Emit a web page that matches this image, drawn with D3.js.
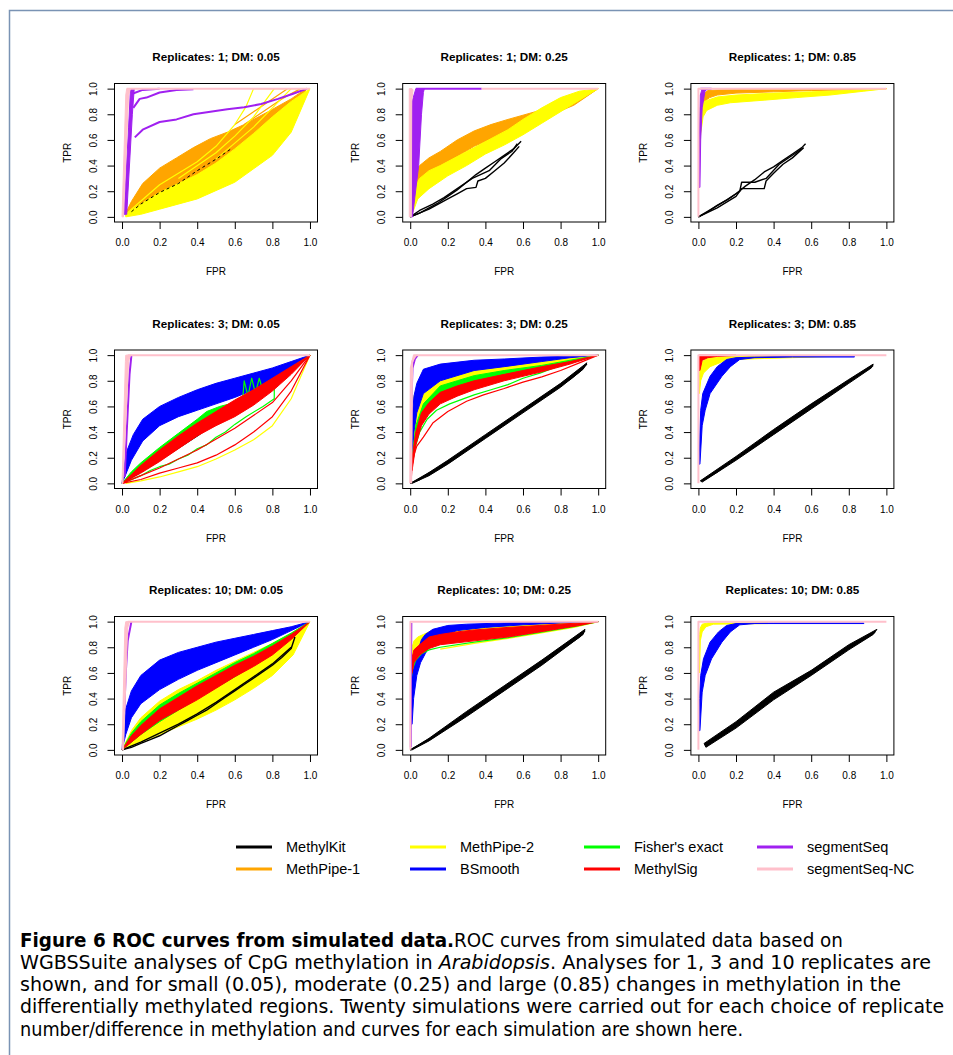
<!DOCTYPE html>
<html><head><meta charset="utf-8">
<script src="https://cdn.jsdelivr.net/npm/d3@7"></script>
<style>body{margin:0;background:#fff}</style>
</head><body><svg id="c" width="953" height="1055"></svg>
<script>
// ---------- data ----------
const methods = ["MethylKit","MethPipe-1","MethPipe-2","BSmooth","Fisher's exact","MethylSig","segmentSeq","segmentSeq-NC"];
const methodColors = ["#000000","#FFA500","#FFFF00","#0000FF","#00FF00","#FF0000","#A020F0","#FFC0CB"];
const drawOrder = ["MethPipe-1","MethPipe-2","MethylKit","BSmooth","Fisher's exact","MethylSig","segmentSeq","segmentSeq-NC"];
const replicateCounts = [1,3,10];
const dmLevels = ["0.05","0.25","0.85"];
const axisTicks = [0,0.2,0.4,0.6,0.8,1.0];

// bands = envelope (upper hi, lower lo) of the 20 simulation curves; lines = individual curves
const r1d05Bands = [
 {m:"MethPipe-1", hi:[[0.02,0.03],[0.05,0.12],[0.11,0.26],[0.2,0.38],[0.29,0.46],[0.38,0.54],[0.47,0.61],[0.56,0.66],[0.65,0.72],[0.79,0.83],[0.9,0.92],[0.98,1]], lo:[[0.02,0.01],[0.1,0.07],[0.2,0.13],[0.38,0.24],[0.56,0.36],[0.74,0.51],[0.91,0.74],[0.98,1]]},
 {m:"MethPipe-2", hi:[[0.02,0.02],[0.1,0.1],[0.2,0.19],[0.3,0.26],[0.4,0.33],[0.5,0.42],[0.6,0.53],[0.7,0.65],[0.8,0.78],[0.9,0.9],[1,1]], lo:[[0.02,0],[0.1,0.02],[0.2,0.06],[0.4,0.14],[0.6,0.27],[0.8,0.48],[0.9,0.66],[1,1]]},
 {m:"segmentSeq", hi:[[0.01,0.02],[0.035,0.7],[0.045,1]], lo:[[0.025,0.02],[0.055,0.8],[0.065,1]]},
 {m:"segmentSeq-NC", hi:[[0,0],[0.02,0.95],[0.025,1]], lo:[[0.008,0],[0.035,0.95],[0.045,1]]}
];
const r1d05Lines = [
 {m:"MethylKit", pts:[[0.05,0.04],[0.1,0.1],[0.2,0.19],[0.3,0.26],[0.4,0.36],[0.5,0.45],[0.58,0.53]]},
 {m:"MethPipe-1", pts:[[0.6,0.72],[0.7,0.82],[0.8,0.92],[0.88,1]]},
 {m:"MethPipe-1", pts:[[0.65,0.72],[0.75,0.82],[0.85,0.92],[0.95,1]]},
 {m:"MethPipe-2", pts:[[0.02,0.02],[0.2,0.25],[0.4,0.43],[0.5,0.55],[0.6,0.72],[0.66,0.86],[0.7,1],[1,1]]},
 {m:"MethPipe-2", pts:[[0.3,0.3],[0.5,0.5],[0.6,0.63],[0.7,0.78],[0.81,1]]},
 {m:"MethPipe-2", pts:[[0.5,0.45],[0.7,0.7],[0.8,0.85],[0.9,1]]},
 {m:"segmentSeq", pts:[[0.068,0.62],[0.11,0.68],[0.2,0.74],[0.29,0.76],[0.38,0.8],[0.47,0.82],[0.56,0.84],[0.65,0.855],[0.74,0.88],[0.83,0.92],[0.91,0.96],[0.985,1]]},
 {m:"segmentSeq", pts:[[0.06,0.85],[0.094,0.92],[0.13,0.93],[0.2,0.97],[0.29,0.99],[0.38,0.995]]},
 {m:"segmentSeq", pts:[[0.055,0.96],[0.11,0.99],[0.2,1]]},
 {m:"segmentSeq-NC", pts:[[0.025,1],[1,1]]}
];

const r1d25Bands = [
 {m:"MethPipe-1", hi:[[0.005,0.05],[0.02,0.3],[0.05,0.4],[0.1,0.46],[0.16,0.51],[0.25,0.6],[0.34,0.67],[0.43,0.72],[0.52,0.76],[0.69,0.83],[0.87,0.92],[1,1]], lo:[[0.01,0.05],[0.035,0.21],[0.1,0.32],[0.16,0.37],[0.25,0.47],[0.34,0.55],[0.52,0.66],[0.69,0.76],[0.87,0.87],[1,1]]},
 {m:"MethPipe-2", hi:[[0.005,0.05],[0.02,0.22],[0.05,0.3],[0.1,0.36],[0.16,0.4],[0.25,0.47],[0.34,0.54],[0.43,0.61],[0.52,0.68],[0.6,0.76],[0.7,0.85],[0.8,0.93],[0.9,0.98],[1,1]], lo:[[0.01,0.02],[0.04,0.14],[0.1,0.22],[0.2,0.32],[0.3,0.4],[0.4,0.49],[0.5,0.56],[0.6,0.64],[0.7,0.73],[0.8,0.82],[0.9,0.91],[1,1]]},
 {m:"segmentSeq", hi:[[0.003,0],[0.006,0.5],[0.01,0.9],[0.03,1]], lo:[[0.012,0],[0.045,0.4],[0.06,0.8],[0.07,0.97],[0.075,1]]},
 {m:"segmentSeq-NC", hi:[[-0.005,0],[-0.005,1],[0.01,1]], lo:[[0.006,0],[0.008,0.9],[0.015,0.99]]}
];
const r1d25Lines = [
 {m:"MethylKit", pts:[[0,0],[0.05,0.03],[0.1,0.07],[0.15,0.11],[0.2,0.16],[0.25,0.21],[0.3,0.27],[0.35,0.33],[0.4,0.38],[0.45,0.43],[0.5,0.48],[0.55,0.53],[0.59,0.59]]},
 {m:"MethylKit", pts:[[0,0],[0.1,0.06],[0.2,0.14],[0.25,0.18],[0.3,0.22],[0.35,0.23],[0.36,0.28],[0.4,0.3],[0.45,0.36],[0.5,0.42],[0.55,0.5],[0.58,0.55]]},
 {m:"MethylKit", pts:[[0,0],[0.05,0.05],[0.12,0.1],[0.18,0.15],[0.26,0.23],[0.33,0.3],[0.42,0.36],[0.48,0.45],[0.54,0.51],[0.57,0.57]]},
 {m:"segmentSeq", pts:[[0.03,1],[0.38,1]]},
 {m:"segmentSeq-NC", pts:[[0.38,1],[1,1]]}
];

const r1d85Bands = [
 {m:"MethPipe-1", hi:[[0.01,0.85],[0.02,0.95],[0.05,0.985],[0.1,0.99],[0.3,0.995],[0.6,0.998],[1,1]], lo:[[0.01,0.8],[0.03,0.9],[0.06,0.93],[0.1,0.95],[0.2,0.965],[0.4,0.975],[0.6,0.985],[0.8,0.99],[1,1]]},
 {m:"MethPipe-2", hi:[[0.01,0.8],[0.03,0.9],[0.1,0.935],[0.2,0.95],[0.4,0.965],[0.6,0.975],[0.8,0.985],[1,1]], lo:[[0.005,0.5],[0.012,0.65],[0.025,0.78],[0.044,0.83],[0.1,0.87],[0.17,0.89],[0.35,0.91],[0.52,0.93],[0.7,0.95],[0.88,0.98],[1,1]]},
 {m:"segmentSeq", hi:[[0.003,0.23],[0.005,0.6],[0.01,0.95],[0.02,1]], lo:[[0.008,0.23],[0.012,0.6],[0.02,0.85],[0.035,0.98],[0.05,1]]}
];
const r1d85Lines = [
 {m:"MethylKit", pts:[[0,0],[0.05,0.04],[0.1,0.09],[0.15,0.13],[0.2,0.18],[0.25,0.24],[0.3,0.29],[0.35,0.35],[0.4,0.39],[0.45,0.44],[0.5,0.49],[0.55,0.54],[0.57,0.57]]},
 {m:"MethylKit", pts:[[0,0],[0.1,0.07],[0.2,0.16],[0.23,0.22],[0.35,0.22],[0.36,0.28],[0.4,0.34],[0.45,0.41],[0.5,0.46],[0.56,0.54]]},
 {m:"MethylKit", pts:[[0,0],[0.08,0.07],[0.16,0.14],[0.22,0.2],[0.23,0.27],[0.3,0.27],[0.36,0.3],[0.43,0.41],[0.52,0.5],[0.55,0.53]]},
 {m:"segmentSeq", pts:[[0.01,1],[0.07,1]]},
 {m:"segmentSeq-NC", pts:[[0,0],[0,1],[1,1]]}
];

const r3d05Bands = [
 {m:"BSmooth", hi:[[0,0],[0.01,0.12],[0.025,0.25],[0.06,0.38],[0.11,0.5],[0.2,0.6],[0.3,0.67],[0.4,0.73],[0.5,0.78],[0.6,0.82],[0.7,0.86],[0.8,0.9],[0.9,0.95],[1,1]], lo:[[0,0],[0.02,0.07],[0.05,0.18],[0.11,0.33],[0.2,0.45],[0.3,0.52],[0.4,0.57],[0.5,0.62],[0.6,0.67],[0.7,0.73],[0.8,0.8],[0.9,0.89],[1,1]]},
 {m:"Fisher's exact", hi:[[0,0],[0.05,0.09],[0.1,0.16],[0.2,0.28],[0.3,0.39],[0.4,0.5],[0.45,0.56],[0.52,0.6],[0.6,0.63],[0.65,0.66],[0.8,0.8],[0.9,0.9],[1,1]], lo:[[0,0],[0.2,0.2],[0.4,0.4],[0.6,0.6],[0.8,0.8],[1,1]]},
 {m:"MethylSig", hi:[[0,0],[0.05,0.07],[0.1,0.14],[0.2,0.26],[0.3,0.37],[0.4,0.47],[0.5,0.56],[0.6,0.65],[0.7,0.73],[0.8,0.82],[0.9,0.91],[1,1]], lo:[[0,0],[0.1,0.08],[0.2,0.17],[0.3,0.27],[0.4,0.37],[0.5,0.45],[0.6,0.52],[0.7,0.61],[0.8,0.72],[0.9,0.85],[1,1]]},
 {m:"segmentSeq-NC", hi:[[0,0],[0.018,0.95],[0.02,1]], lo:[[0.005,0],[0.035,0.95],[0.045,1]]}
];
const r3d05Lines = [
 {m:"MethylKit", pts:[[0,0],[0.2,0.18],[0.4,0.37],[0.6,0.58],[0.8,0.79],[1,1]]},
 {m:"MethPipe-1", pts:[[0,0],[0.1,0.14],[0.2,0.25],[0.4,0.45],[0.6,0.64],[0.8,0.82],[1,1]]},
 {m:"MethPipe-2", pts:[[0.02,0],[0.1,0.02],[0.2,0.05],[0.3,0.09],[0.4,0.13],[0.5,0.19],[0.6,0.26],[0.7,0.34],[0.8,0.45],[0.9,0.66],[1,1]]},
 {m:"MethPipe-2", pts:[[0,0],[0.3,0.31],[0.5,0.53],[0.7,0.74],[0.85,0.88],[1,1]]},
 {m:"Fisher's exact", pts:[[0.64,0.62],[0.65,0.8],[0.67,0.68],[0.69,0.82],[0.71,0.7],[0.73,0.82],[0.75,0.72],[0.8,0.8]]},
 {m:"Fisher's exact", pts:[[0,0],[0.1,0.06],[0.15,0.1],[0.2,0.13],[0.25,0.15],[0.3,0.19],[0.35,0.22],[0.4,0.27],[0.45,0.3],[0.5,0.36],[0.55,0.4],[0.6,0.46],[0.66,0.52],[0.75,0.6],[0.81,0.66],[0.81,0.75],[0.9,0.87],[1,1]]},
 {m:"MethylSig", pts:[[0,0],[0.1,0.03],[0.2,0.08],[0.3,0.12],[0.4,0.16],[0.5,0.22],[0.6,0.3],[0.7,0.4],[0.8,0.52],[0.9,0.72],[1,1]]},
 {m:"MethylSig", pts:[[0,0],[0.1,0.06],[0.2,0.12],[0.4,0.26],[0.6,0.43],[0.8,0.63],[0.9,0.8],[1,1]]},
 {m:"segmentSeq", pts:[[0.014,0.05],[0.025,0.4],[0.04,0.85],[0.05,1]]},
 {m:"segmentSeq-NC", pts:[[0.03,1],[1,1]]}
];

const r3d25Bands = [
 {m:"MethylKit", hi:[[0,0],[0.1,0.085],[0.2,0.18],[0.4,0.38],[0.6,0.58],[0.8,0.78],[0.94,0.94]], lo:[[0.01,0],[0.1,0.06],[0.2,0.15],[0.4,0.35],[0.6,0.55],[0.8,0.75],[0.92,0.89]]},
 {m:"MethPipe-2", hi:[[0.004,0.2],[0.01,0.5],[0.02,0.68],[0.035,0.75],[0.07,0.83],[0.16,0.86],[0.34,0.9],[0.5,0.92],[0.7,0.95],[0.85,0.975],[1,1]], lo:[[0.01,0.2],[0.03,0.45],[0.07,0.62],[0.16,0.72],[0.25,0.78],[0.34,0.82],[0.5,0.87],[0.7,0.92],[0.85,0.96],[1,1]]},
 {m:"BSmooth", hi:[[0.004,0.2],[0.01,0.5],[0.02,0.68],[0.035,0.78],[0.07,0.89],[0.16,0.93],[0.34,0.96],[0.5,0.97],[0.7,0.985],[1,1]], lo:[[0.01,0.2],[0.02,0.4],[0.035,0.55],[0.07,0.7],[0.16,0.8],[0.34,0.88],[0.5,0.91],[0.7,0.95],[0.85,0.98],[1,1]]},
 {m:"Fisher's exact", hi:[[0.01,0.2],[0.03,0.45],[0.07,0.62],[0.16,0.76],[0.25,0.8],[0.34,0.84],[0.5,0.88],[0.7,0.92],[0.85,0.96],[1,1]], lo:[[0.01,0.15],[0.03,0.35],[0.07,0.52],[0.16,0.65],[0.25,0.72],[0.34,0.77],[0.5,0.83],[0.7,0.89],[0.85,0.94],[1,1]]},
 {m:"MethylSig", hi:[[0.01,0.2],[0.03,0.4],[0.06,0.55],[0.1,0.63],[0.16,0.71],[0.25,0.76],[0.34,0.8],[0.5,0.85],[0.7,0.91],[0.85,0.95],[1,1]], lo:[[0.01,0.1],[0.03,0.3],[0.06,0.45],[0.1,0.54],[0.16,0.62],[0.25,0.68],[0.34,0.73],[0.5,0.8],[0.7,0.87],[0.85,0.93],[1,1]]}
];
const r3d25Lines = [
 {m:"MethylKit", pts:[[0,0],[0.05,0.03],[0.1,0.08],[0.15,0.12],[0.2,0.17],[0.25,0.21],[0.3,0.27],[0.35,0.31],[0.4,0.37],[0.45,0.41],[0.5,0.47],[0.55,0.51],[0.6,0.57],[0.65,0.61],[0.7,0.67],[0.75,0.71],[0.8,0.77],[0.85,0.81],[0.9,0.87],[0.94,0.93]]},
 {m:"Fisher's exact", pts:[[0.02,0.25],[0.05,0.4],[0.09,0.5],[0.14,0.57],[0.21,0.62],[0.34,0.69],[0.43,0.73],[0.52,0.77],[0.6,0.82],[0.69,0.86],[0.78,0.91],[0.9,0.96],[1,1]]},
 {m:"MethylSig", pts:[[0.005,0.02],[0.01,0.14],[0.02,0.22],[0.035,0.29],[0.07,0.36],[0.12,0.47],[0.2,0.56],[0.3,0.64],[0.39,0.69],[0.5,0.74],[0.6,0.79],[0.7,0.83],[0.8,0.88],[0.9,0.94],[1,1]]},
 {m:"segmentSeq", pts:[[0.005,0.35],[0.008,0.7],[0.012,0.9],[0.025,0.97],[0.04,1]]},
 {m:"segmentSeq-NC", pts:[[0,0],[0.003,0.9],[0.02,1],[1,1]]},
 {m:"segmentSeq-NC", pts:[[0.005,0],[0.01,0.95],[0.03,1]]}
];

const r3d85Bands = [
 {m:"MethylKit", hi:[[0.01,0.02],[0.2,0.21],[0.4,0.42],[0.6,0.62],[0.8,0.81],[0.93,0.93]], lo:[[0.02,0.01],[0.2,0.18],[0.4,0.38],[0.6,0.58],[0.8,0.78],[0.92,0.9]]},
 {m:"MethPipe-2", hi:[[0.004,0.78],[0.008,0.9],[0.02,0.95],[0.05,0.975],[0.1,0.985],[0.3,0.99],[0.72,0.995]], lo:[[0.005,0.7],[0.012,0.8],[0.027,0.86],[0.062,0.91],[0.13,0.95],[0.2,0.966],[0.35,0.974],[0.5,0.98],[0.72,0.99]]},
 {m:"BSmooth", hi:[[0.004,0.15],[0.008,0.4],[0.012,0.57],[0.023,0.7],[0.062,0.835],[0.1,0.91],[0.15,0.966],[0.2,0.98],[0.3,0.985],[0.5,0.99],[0.83,0.99]], lo:[[0.008,0.15],[0.02,0.45],[0.036,0.57],[0.062,0.7],[0.125,0.835],[0.17,0.91],[0.22,0.966],[0.3,0.98],[0.5,0.985],[0.83,0.985]]},
 {m:"MethylSig", hi:[[0.003,0.88],[0.004,1],[0.2,1]], lo:[[0.008,0.88],[0.02,0.96],[0.05,0.98],[0.1,0.99],[0.2,0.997]]}
];
const r3d85Lines = [
 {m:"MethylKit", pts:[[0.02,0.02],[0.1,0.09],[0.2,0.2],[0.3,0.29],[0.4,0.4],[0.5,0.49],[0.6,0.6],[0.7,0.69],[0.8,0.8],[0.9,0.89],[0.93,0.92]]},
 {m:"segmentSeq-NC", pts:[[0,0],[0,1],[1,1]]}
];

const r10d05Bands = [
 {m:"MethPipe-2", hi:[[0,0],[0.05,0.15],[0.1,0.25],[0.2,0.38],[0.3,0.47],[0.4,0.54],[0.5,0.62],[0.6,0.69],[0.7,0.76],[0.8,0.83],[0.9,0.91],[1,1]], lo:[[0,0],[0.1,0.06],[0.2,0.12],[0.3,0.18],[0.4,0.24],[0.5,0.31],[0.6,0.39],[0.7,0.48],[0.8,0.58],[0.91,0.74],[1,1]]},
 {m:"BSmooth", hi:[[0,0],[0.01,0.2],[0.02,0.32],[0.05,0.46],[0.1,0.58],[0.2,0.7],[0.3,0.76],[0.4,0.8],[0.5,0.84],[0.6,0.87],[0.7,0.9],[0.8,0.93],[0.9,0.96],[1,1]], lo:[[0,0],[0.02,0.12],[0.05,0.25],[0.1,0.36],[0.2,0.47],[0.3,0.55],[0.4,0.62],[0.5,0.68],[0.6,0.74],[0.7,0.8],[0.8,0.86],[0.9,0.93],[1,1]]},
 {m:"Fisher's exact", hi:[[0,0],[0.05,0.13],[0.1,0.22],[0.2,0.35],[0.3,0.44],[0.4,0.52],[0.5,0.6],[0.6,0.68],[0.7,0.75],[0.8,0.83],[0.9,0.91],[1,1]], lo:[[0,0],[0.1,0.12],[0.2,0.22],[0.4,0.4],[0.6,0.57],[0.8,0.75],[1,1]]},
 {m:"MethylSig", hi:[[0,0],[0.05,0.11],[0.1,0.19],[0.2,0.32],[0.3,0.41],[0.4,0.5],[0.5,0.58],[0.6,0.66],[0.7,0.73],[0.8,0.81],[0.9,0.9],[1,1]], lo:[[0,0],[0.05,0.06],[0.1,0.12],[0.2,0.23],[0.3,0.31],[0.4,0.39],[0.5,0.48],[0.6,0.57],[0.7,0.65],[0.8,0.74],[0.9,0.86],[1,1]]},
 {m:"segmentSeq-NC", hi:[[0,0],[0.015,0.95],[0.02,1]], lo:[[0.008,0],[0.03,0.95],[0.04,1]]}
];
const r10d05Lines = [
 {m:"MethylKit", pts:[[0,0],[0.05,0.02],[0.1,0.05],[0.15,0.08],[0.2,0.11],[0.25,0.15],[0.3,0.19],[0.35,0.23],[0.4,0.27],[0.45,0.31],[0.5,0.36],[0.55,0.41],[0.6,0.46],[0.65,0.51],[0.7,0.56],[0.75,0.61],[0.8,0.66],[0.85,0.72],[0.9,0.79],[0.92,0.88]]},
 {m:"MethylKit", pts:[[0,0],[0.1,0.06],[0.2,0.13],[0.3,0.2],[0.4,0.28],[0.5,0.37],[0.6,0.47],[0.7,0.57],[0.8,0.67],[0.9,0.8]]},
 {m:"segmentSeq", pts:[[0.012,0.3],[0.02,0.6],[0.03,0.85],[0.05,1]]},
 {m:"segmentSeq-NC", pts:[[0.03,1],[1,1]]}
];

const r10d25Bands = [
 {m:"MethylKit", hi:[[0,0],[0.1,0.09],[0.3,0.3],[0.5,0.5],[0.7,0.7],[0.93,0.94]], lo:[[0.01,0],[0.1,0.07],[0.3,0.26],[0.5,0.46],[0.7,0.66],[0.92,0.9]]},
 {m:"MethPipe-2", hi:[[0.005,0.7],[0.01,0.8],[0.02,0.85],[0.04,0.88],[0.07,0.9],[0.1,0.92],[0.2,0.95],[0.4,0.97],[0.6,0.98],[0.8,0.99],[1,1]], lo:[[0.01,0.65],[0.02,0.75],[0.05,0.8],[0.1,0.84],[0.2,0.87],[0.4,0.91],[0.6,0.94],[0.8,0.97],[1,1]]},
 {m:"BSmooth", hi:[[0.003,0.2],[0.006,0.45],[0.01,0.58],[0.02,0.68],[0.04,0.77],[0.06,0.86],[0.08,0.9],[0.12,0.94],[0.2,0.97],[0.3,0.98],[0.5,0.99],[0.7,0.995],[1,1]], lo:[[0.01,0.2],[0.018,0.4],[0.035,0.58],[0.055,0.68],[0.08,0.75],[0.1,0.8],[0.15,0.88],[0.25,0.93],[0.4,0.955],[0.6,0.975],[0.8,0.99],[1,1]]},
 {m:"MethylSig", hi:[[0.005,0.6],[0.01,0.72],[0.02,0.78],[0.05,0.82],[0.1,0.88],[0.16,0.9],[0.25,0.92],[0.34,0.935],[0.52,0.955],[0.69,0.97],[0.9,0.99],[1,1]], lo:[[0.005,0.58],[0.01,0.6],[0.02,0.68],[0.05,0.74],[0.1,0.79],[0.16,0.82],[0.34,0.85],[0.52,0.88],[0.69,0.92],[0.9,0.97],[1,1]]}
];
const r10d25Lines = [
 {m:"MethPipe-2", pts:[[0.16,0.785],[0.34,0.83],[0.52,0.87],[0.69,0.91],[0.87,0.955],[1,1]]},
 {m:"MethylKit", pts:[[0,0],[0.05,0.04],[0.1,0.08],[0.15,0.13],[0.2,0.18],[0.25,0.23],[0.3,0.28],[0.35,0.33],[0.4,0.38],[0.45,0.44],[0.5,0.48],[0.55,0.53],[0.6,0.58],[0.65,0.64],[0.7,0.68],[0.75,0.73],[0.8,0.78],[0.85,0.83],[0.9,0.88],[0.93,0.93]]},
 {m:"Fisher's exact", pts:[[0.005,0.55],[0.01,0.62],[0.03,0.7],[0.06,0.75],[0.1,0.78],[0.16,0.8],[0.34,0.84],[0.52,0.875],[0.69,0.915],[0.87,0.96],[1,1]]},
 {m:"segmentSeq", pts:[[0.003,0.02],[0.004,0.6],[0.006,0.99]]},
 {m:"segmentSeq-NC", pts:[[0.001,0],[0.001,1],[1,1]]}
];

const r10d85Bands = [
 {m:"MethylKit", hi:[[0.03,0.05],[0.2,0.22],[0.4,0.45],[0.6,0.62],[0.8,0.82],[0.95,0.94]], lo:[[0.04,0.02],[0.2,0.17],[0.4,0.39],[0.6,0.58],[0.8,0.78],[0.93,0.9]]},
 {m:"MethPipe-2", hi:[[0.004,0.7],[0.006,0.9],[0.01,0.95],[0.02,0.98],[0.05,0.99],[0.37,0.99]], lo:[[0.006,0.6],[0.01,0.85],[0.02,0.92],[0.04,0.96],[0.08,0.98],[0.37,0.985]]},
 {m:"BSmooth", hi:[[0.003,0.15],[0.006,0.4],[0.012,0.58],[0.027,0.71],[0.062,0.84],[0.107,0.92],[0.15,0.97],[0.2,0.985],[0.4,0.99],[0.88,0.99]], lo:[[0.008,0.15],[0.02,0.45],[0.036,0.58],[0.07,0.71],[0.125,0.84],[0.17,0.92],[0.22,0.975],[0.3,0.985],[0.88,0.985]]}
];
const r10d85Lines = [
 {m:"MethylKit", pts:[[0.04,0.03],[0.1,0.09],[0.15,0.14],[0.2,0.2],[0.25,0.25],[0.3,0.31],[0.35,0.36],[0.4,0.42],[0.45,0.46],[0.5,0.51],[0.55,0.56],[0.6,0.6],[0.65,0.65],[0.7,0.7],[0.75,0.75],[0.8,0.8],[0.85,0.84],[0.9,0.88],[0.94,0.92]]},
 {m:"segmentSeq-NC", pts:[[0,0],[0,1],[1,1]]}
];

const captionLines = [
 [["Figure 6  ROC curves from simulated data.","b"],["ROC curves from simulated data based on",""]],
 [["WGBSSuite analyses of CpG methylation in ",""],["Arabidopsis","i"],[". Analyses for 1, 3 and 10 replicates are",""]],
 [["shown, and for small (0.05), moderate (0.25) and large (0.85) changes in methylation in the",""]],
 [["differentially methylated regions. Twenty simulations were carried out for each choice of replicate",""]],
 [["number/difference in methylation and curves for each simulation are shown here.",""]]
];

// ---------- layout ----------
const panels = [
 [r1d05Bands,r1d05Lines],[r1d25Bands,r1d25Lines],[r1d85Bands,r1d85Lines],
 [r3d05Bands,r3d05Lines],[r3d25Bands,r3d25Lines],[r3d85Bands,r3d85Lines],
 [r10d05Bands,r10d05Lines],[r10d25Bands,r10d25Lines],[r10d85Bands,r10d85Lines]
];
const colLeft=[114.5,402.7,690.9], rowTop=[83.5,350,616.5], boxW=203, boxH=138.5;
const AX = "'Liberation Sans', Arial, Helvetica, sans-serif";
const svg = d3.select("#c");
const colorOf = m => methodColors[methods.indexOf(m)];

// frame
svg.append("path").attr("d","M9.5,1055V10.5H953").attr("fill","none").attr("stroke","#7a93b4").attr("stroke-width",1.5);

panels.forEach((p,i)=>{
  const r=Math.floor(i/3), c=i%3;
  const x0=colLeft[c], y0=rowTop[r];
  const x=d3.scaleLinear().domain([-0.04,1.04]).range([x0,x0+boxW]);
  const y=d3.scaleLinear().domain([-0.04,1.04]).range([y0+boxH,y0]);
  const g=svg.append("g");
  const clipId="clip"+i;
  svg.append("clipPath").attr("id",clipId).append("rect").attr("x",x0).attr("y",y0).attr("width",boxW).attr("height",boxH);
  const plot=g.append("g").attr("clip-path",`url(#${clipId})`);
  const line=d3.line().x(d=>x(d[0])).y(d=>y(d[1]));
  const [bands,lines]=p;
  drawOrder.forEach(m=>{
    const col=colorOf(m);
    bands.filter(b=>b.m===m).forEach(b=>{
      plot.append("path").attr("d",line(b.hi.concat(b.lo.slice().reverse()))+"Z")
        .attr("fill",col).attr("stroke",col).attr("stroke-width",1).attr("stroke-linejoin","round");
    });
    lines.filter(l=>l.m===m).forEach(l=>{
      const path=plot.append("path").attr("d",line(l.pts))
        .attr("fill","none").attr("stroke",col).attr("stroke-linejoin","round")
        .attr("stroke-width", m.startsWith("segmentSeq")?2:(m==="MethylKit"?(i===0?1:1.4):1.2));
      if(m==="MethylKit" && i===0) path.attr("stroke-dasharray","3,3");
    });
  });
  g.append("rect").attr("x",x0).attr("y",y0).attr("width",boxW).attr("height",boxH)
    .attr("fill","none").attr("stroke","#000").attr("stroke-width",1);
  // x axis
  const xa=g.append("g").attr("transform",`translate(0,${y0+boxH})`)
    .call(d3.axisBottom(x).tickValues(axisTicks).tickFormat(d3.format(".1f")).tickSize(7).tickPadding(10).tickSizeOuter(0));
  xa.select(".domain").remove();
  xa.selectAll("text").attr("font-family",AX).attr("font-size",10).attr("fill","#000");
  // y axis
  const ya=g.append("g").attr("transform",`translate(${x0},0)`)
    .call(d3.axisLeft(y).tickValues(axisTicks).tickFormat(d3.format(".1f")).tickSize(7).tickSizeOuter(0));
  ya.select(".domain").remove();
  ya.selectAll("text").attr("font-family",AX).attr("font-size",10).attr("fill","#000")
    .attr("transform","rotate(-90)").attr("x",0).attr("y",-17.5).attr("dy",0).attr("text-anchor","middle");
  // labels
  g.append("text").attr("x",x0+boxW/2).attr("y",y0-22.3).attr("text-anchor","middle")
    .attr("font-family",AX).attr("font-weight","bold").attr("font-size",11.7)
    .text(`Replicates: ${replicateCounts[r]}; DM: ${dmLevels[c]}`);
  g.append("text").attr("x",x0+boxW/2).attr("y",y0+boxH+53).attr("text-anchor","middle")
    .attr("font-family",AX).attr("font-size",10).text("FPR");
  g.append("text").attr("transform",`translate(${x0-44},${y0+boxH/2}) rotate(-90)`).attr("text-anchor","middle")
    .attr("font-family",AX).attr("font-size",10).text("TPR");
});

// legend
const legX=[236,410,584,757], legY=[847,869];
methods.forEach((m,i)=>{
  const cx=legX[Math.floor(i/2)], cy=legY[i%2];
  svg.append("line").attr("x1",cx).attr("x2",cx+36).attr("y1",cy).attr("y2",cy)
    .attr("stroke",methodColors[i]).attr("stroke-width",3);
  svg.append("text").attr("x",cx+50).attr("y",cy+5).attr("font-family",AX).attr("font-size",14.5).text(m);
});

// caption
const capBase=[947,969,991,1013,1036], capWidth=[823,911,881,924,723];
const CAP="'Liberation Sans Narrow','DejaVu Sans Condensed','Liberation Sans',sans-serif";
captionLines.forEach((ln,i)=>{
  const t=svg.append("text").attr("x",20).attr("y",capBase[i]).attr("font-family",CAP).attr("font-size",19.5)
    .attr("textLength",capWidth[i]).attr("lengthAdjust","spacingAndGlyphs");
  ln.forEach(([s,f])=>{
    const ts=t.append("tspan").text(s);
    if(f==="b") ts.attr("font-weight","bold");
    if(f==="i") ts.attr("font-style","italic");
  });
});
</script></body></html>
